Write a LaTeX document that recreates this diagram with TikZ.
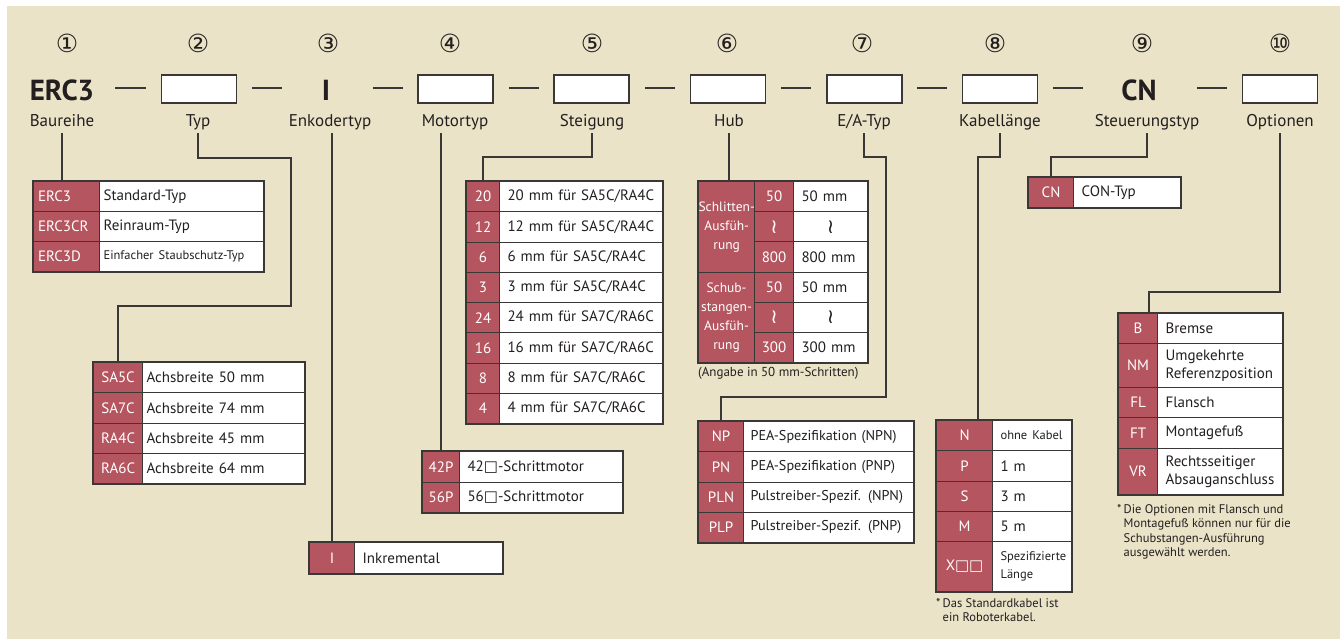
\documentclass[tikz,border=0pt]{standalone}
\usepackage{fontspec}
\setmainfont{PT Sans}
\newfontfamily\symfont{DejaVu Sans}
\usetikzlibrary{positioning}

\definecolor{paper}{RGB}{234,227,199}
\definecolor{codered}{RGB}{181,85,95}
\definecolor{ink}{RGB}{35,31,32}
\definecolor{linec}{RGB}{58,56,54}

\newcommand\smalltxt{\fontsize{12.5}{14.5}\selectfont}
\newcommand\wavesym{{\symfont\fontsize{20}{18}\selectfont ≀}}
\newcommand\sqsym{{\symfont □}}

\tikzset{
  num/.style={font=\symfont\fontsize{25}{25}\selectfont, text=ink},
  lbl/.style={font=\fontsize{17}{17}\selectfont, text=ink, anchor=base,
    text height=12pt, text depth=4pt, inner sep=2pt},
  slot/.style={draw=linec, fill=white, line width=1.2pt, minimum width=75pt,
    minimum height=28pt, inner sep=0pt},
  fixcode/.style={font=\bfseries\fontsize{29}{29}\selectfont, text=ink, inner sep=0pt},
  sepline/.style={draw=linec, line width=1.3pt},
  conn/.style={draw=linec, line width=1.6pt},
  codecell/.style={draw=linec, fill=codered, text=white, anchor=north west,
    inner sep=0pt, line width=1.1pt, font=\fontsize{15}{18}\selectfont},
  desccell/.style={draw=linec, fill=white, text=ink, anchor=north west, align=left,
    inner ysep=0pt, inner xsep=8pt, line width=1.1pt, font=\fontsize{15}{18}\selectfont},
  tblframe/.style={draw=linec, line width=1.6pt},
  note/.style={font=\smalltxt, text=ink, anchor=north west, align=left, inner sep=0pt},
}

\begin{document}
\begin{tikzpicture}[x=1pt,y=-1pt]
\useasboundingbox (0,0) rectangle (1340,639);
\fill[paper] (7,6) rectangle (1340,639);

% position numbers
\foreach \n/\x in {1/67,2/198,3/328,4/450,5/592,6/727,7/862,8/995,9/1142,10/1280}
  \node[num] (num\n) at (\x,43) {\ifcase\n\or ①\or ②\or ③\or ④\or ⑤\or ⑥\or ⑦\or ⑧\or ⑨\or ⑩\fi};

% model code
\node[fixcode] (code1) at (62,90) {ERC3};
\node[slot] (code2) at (199,89) {};
\node[fixcode] (code3) at (326,90) {I};
\node[slot] (code4) at (455.5,89) {};
\node[slot] (code5) at (591.5,89) {};
\node[slot] (code6) at (728,89) {};
\node[slot] (code7) at (864.5,89) {};
\node[slot] (code8) at (1000,89) {};
\node[fixcode] (code9) at (1139,90) {CN};
\node[slot] (code10) at (1280,89) {};
\foreach \a/\b in {115/146,252/282,373/403,509/539,645/675,781/811,917/947,1053/1083,1197/1227}
  \draw[sepline] (\a,88) -- (\b,88);

\node[lbl] (lbl1) at (62,127) {Baureihe};
\node[lbl] (lbl2) at (198,127) {Typ};
\node[lbl] (lbl3) at (330,127) {Enkodertyp};
\node[lbl] (lbl4) at (455,127) {Motortyp};
\node[lbl] (lbl5) at (592,127) {Steigung};
\node[lbl] (lbl6) at (729,127) {Hub};
\node[lbl] (lbl7) at (864,127) {E/A-Typ};
\node[lbl] (lbl8) at (1000,127) {Kabellänge};
\node[lbl] (lbl9) at (1147,127) {Steuerungstyp};
\node[lbl] (lbl10) at (1280,127) {Optionen};

% Baureihe
\foreach \c/\t [count=\i] in {ERC3/Standard-Typ, ERC3CR/Reinraum-Typ, ERC3D/{\smalltxt Einfacher Staubschutz-Typ}} {
  \node[codecell, inner xsep=4.5pt, text width=57pt, align=left, minimum height=30pt] (ser-c\i) at (33,{181+30*(\i-1)}) {\c};
  \node[desccell, inner xsep=4pt, text width=156pt, minimum height=30pt] (ser-t\i) at (99,{181+30*(\i-1)}) {\t};
}
\draw[tblframe] (ser-c1.north west) rectangle (ser-t3.south east);

% Typ
\foreach \c/\t [count=\i] in {SA5C/Achsbreite 50 mm, SA7C/Achsbreite 74 mm, RA4C/Achsbreite 45 mm, RA6C/Achsbreite 64 mm} {
  \node[codecell, minimum width=49pt, minimum height=30.25pt] (typ-c\i) at (93,{362+30.25*(\i-1)}) {\c};
  \node[desccell, inner xsep=4pt, text width=154pt, minimum height=30.25pt] (typ-t\i) at (142,{362+30.25*(\i-1)}) {\t};
}
\draw[tblframe] (typ-c1.north west) rectangle (typ-t4.south east);

% Enkodertyp
\node[codecell, minimum width=45pt, minimum height=31pt] (enk-c1) at (309,542) {I};
\node[desccell, text width=132pt, minimum height=31pt] (enk-t1) at (354,542) {Inkremental};
\draw[tblframe] (enk-c1.north west) rectangle (enk-t1.south east);

% Motortyp
\foreach \c/\t [count=\i] in {42P/42\sqsym-Schrittmotor, 56P/56\sqsym-Schrittmotor} {
  \node[codecell, minimum width=37pt, minimum height=30.5pt] (mot-c\i) at (422,{451+30.5*(\i-1)}) {\c};
  \node[desccell, text width=147pt, minimum height=30.5pt] (mot-t\i) at (459,{451+30.5*(\i-1)}) {\t};
}
\draw[tblframe] (mot-c1.north west) rectangle (mot-t2.south east);

% Steigung
\foreach \c/\t [count=\i] in {20/{20 mm für SA5C/RA4C}, 12/{12 mm für SA5C/RA4C}, 6/{6 mm für SA5C/RA4C}, 3/{3 mm für SA5C/RA4C},
    24/{24 mm für SA7C/RA6C}, 16/{16 mm für SA7C/RA6C}, 8/{8 mm für SA7C/RA6C}, 4/{4 mm für SA7C/RA6C}} {
  \node[codecell, minimum width=33pt, minimum height=30.25pt] (stg-c\i) at (466,{181+30.25*(\i-1)}) {\c};
  \node[desccell, text width=147pt, minimum height=30.25pt] (stg-t\i) at (499,{181+30.25*(\i-1)}) {\t};
}
\draw[tblframe] (stg-c1.north west) rectangle (stg-t8.south east);

% Hub
\node[codecell, minimum width=56pt, minimum height=90.5pt, align=center, font=\fontsize{13.5}{19}\selectfont] (hub-g1) at (698,181) {Schlitten-\\Ausfüh-\\rung};
\node[codecell, minimum width=56pt, minimum height=90.5pt, align=center, font=\fontsize{13.5}{19}\selectfont] (hub-g2) at (698,271.5) {Schub-\\stangen-\\Ausfüh-\\rung};
\foreach \c/\t [count=\i] in {50/50 mm, \wavesym/\makebox[58pt]{\wavesym}, 800/800 mm, 50/50 mm, \wavesym/\makebox[58pt]{\wavesym}, 300/300 mm} {
  \node[codecell, minimum width=39pt, minimum height=30.17pt] (hub-c\i) at (754,{181+30.17*(\i-1)}) {\c};
  \node[desccell, text width=58pt, minimum height=30.17pt] (hub-t\i) at (793,{181+30.17*(\i-1)}) {\t};
}
\draw[tblframe] (hub-g1.north west) rectangle (hub-t6.south east);
\node[note, font=\fontsize{13}{15}\selectfont] (hub-note) at (698,367) {(Angabe in 50 mm-Schritten)};

% E/A-Typ
\foreach \c/\t [count=\i] in {NP/PEA-Spezifikation (NPN), PN/PEA-Spezifikation (PNP), PLN/Pulstreiber-Spezif. (NPN), PLP/Pulstreiber-Spezif. (PNP)} {
  \node[codecell, minimum width=45pt, minimum height=30.25pt] (ea-c\i) at (698,{421+30.25*(\i-1)}) {\c};
  \node[desccell, text width=156pt, inner xsep=7pt, minimum height=30.25pt, font=\fontsize{14.2}{17}\selectfont] (ea-t\i) at (743,{421+30.25*(\i-1)}) {\t};
}
\draw[tblframe] (ea-c1.north west) rectangle (ea-t4.south east);

% Kabellaenge
\foreach \y/\h/\c/\t [count=\i] in {420/30/N/{\smalltxt ohne Kabel}, 450/31/P/1 m, 481/30/S/3 m, 511/30/M/5 m,
    541/50/X\sqsym\sqsym/{\smalltxt Spezifizierte\\Länge}} {
  \node[codecell, minimum width=56pt, minimum height=\h pt] (kab-c\i) at (936,\y) {\c};
  \node[desccell, text width=63pt, minimum height=\h pt] (kab-t\i) at (992,\y) {\t};
}
\draw[tblframe] (kab-c1.north west) rectangle (kab-t5.south east);
\node[note] (kab-note) at (936,597) {*\,\begin{tabular}[t]{@{}l@{}}Das Standardkabel ist\\ein Roboterkabel.\end{tabular}};

% Steuerungstyp
\node[codecell, minimum width=45pt, minimum height=30pt] (cn-c1) at (1028,177) {CN};
\node[desccell, text width=91pt, minimum height=30pt] (cn-t1) at (1073,177) {CON-Typ};
\draw[tblframe] (cn-c1.north west) rectangle (cn-t1.south east);

% Optionen
\foreach \y/\h/\c/\t [count=\i] in {313/30/B/Bremse, 343/44/NM/{Umgekehrte\\Referenzposition}, 387/30/FL/Flansch,
    417/31/FT/Montagefuß, 448/46/VR/{Rechtsseitiger\\Absauganschluss}} {
  \node[codecell, minimum width=39pt, minimum height=\h pt] (opt-c\i) at (1118,\y) {\c};
  \node[desccell, text width=109pt, minimum height=\h pt] (opt-t\i) at (1157,\y) {\t};
}
\draw[tblframe] (opt-c1.north west) rectangle (opt-t5.south east);
\node[note] (opt-note) at (1117,503) {*\,\begin{tabular}[t]{@{}l@{}}Die Optionen mit Flansch und\\Montagefuß können nur für die\\Schubstangen-Ausführung\\ausgewählt werden.\end{tabular}};

% connectors
\draw[conn] (lbl1.south) -- (lbl1.south |- ser-c1.north);
\draw[conn] (lbl2.south) |- (291,158) |- ([yshift=56pt]typ-c1.north) -- (typ-c1.north);
\draw[conn] (lbl3.south -| enk-c1.north) -- (enk-c1.north);
\draw[conn] (lbl4.south -| mot-c1.north) -- (mot-c1.north);
\draw[conn] (lbl5.south) |- ([yshift=24pt]stg-c1.north) -- (stg-c1.north);
\draw[conn] (lbl6.south) -- (lbl6.south |- hub-g1.north);
\draw[conn] (lbl7.south) |- (886,157) |- ([yshift=24pt]ea-c1.north) -- (ea-c1.north);
\draw[conn] (lbl8.south) |- (978,157) -- (978,0 |- kab-c1.north);
\draw[conn] (lbl9.south) |- ([yshift=20pt]cn-c1.north) -- (cn-c1.north);
\draw[conn] (lbl10.south) |- (1149,292) -- (1149,0 |- opt-c1.north);
\end{tikzpicture}
\end{document}
